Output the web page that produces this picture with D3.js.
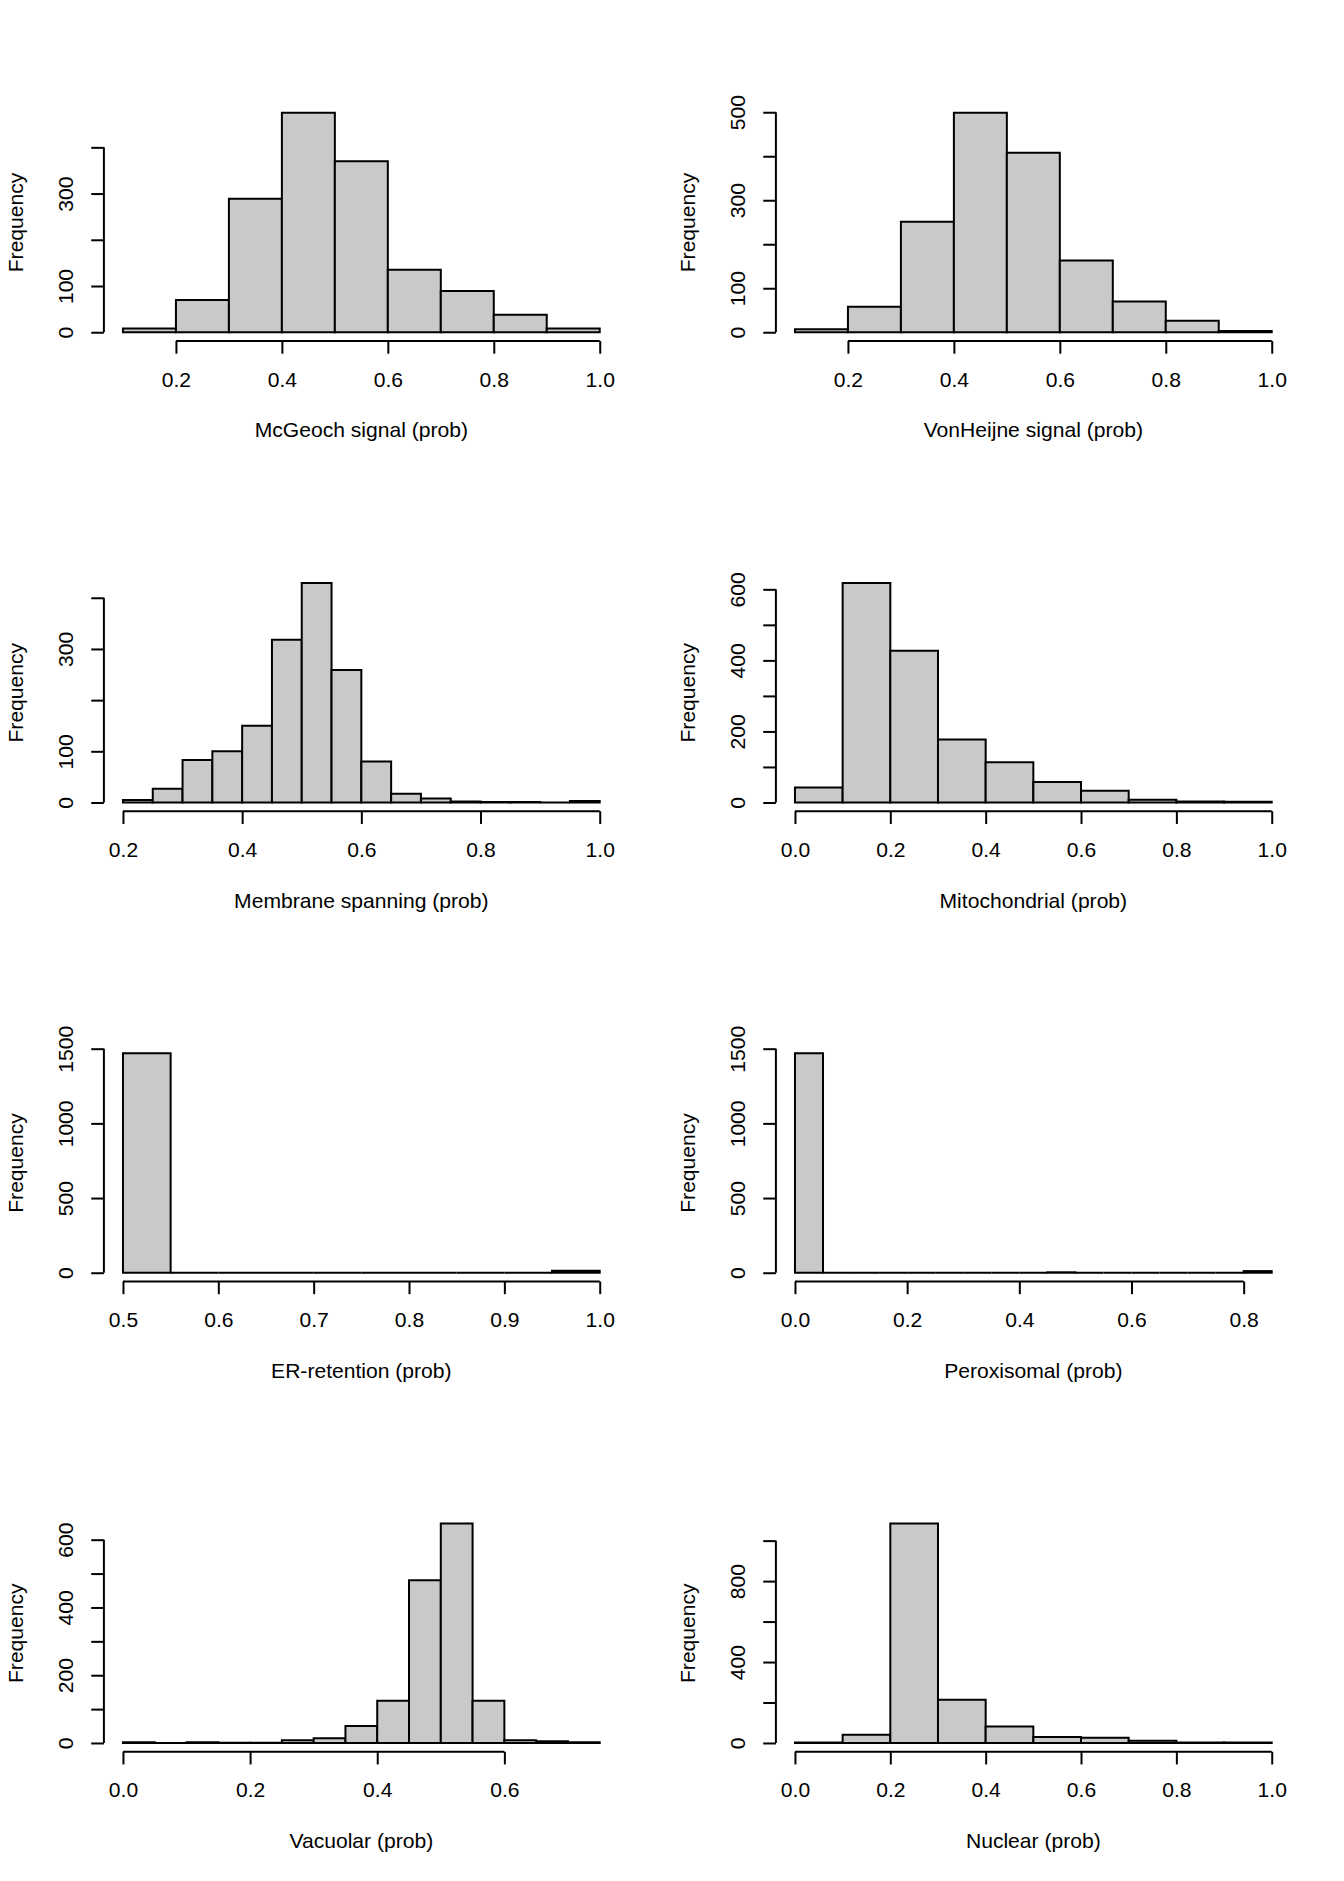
<!DOCTYPE html>
<html>
<head>
<meta charset="utf-8">
<script src="https://cdn.jsdelivr.net/npm/d3@7"></script>
<style>
  body { margin: 0; background: #fff; }
  text { font-family: "Liberation Sans", Arial, Helvetica, sans-serif; fill: #000; }
</style>
</head>
<body>
<svg id="chart" width="1344" height="1881"></svg>
<script>
// histogram bin edges and counts
const mcgBreaks = [0.1, 0.2, 0.3, 0.4, 0.5, 0.6, 0.7, 0.8, 0.9, 1.0]
const mcgCounts = [8, 70, 289, 475, 370, 135, 89, 38, 8]

const gvhBreaks = [0.1, 0.2, 0.3, 0.4, 0.5, 0.6, 0.7, 0.8, 0.9, 1.0]
const gvhCounts = [7, 58, 251, 499, 408, 163, 70, 26, 3]

const almBreaks = [0.2, 0.25, 0.3, 0.35, 0.4, 0.45, 0.5, 0.55, 0.6, 0.65, 0.7, 0.75, 0.8, 0.85, 0.9, 0.95, 1.0]
const almCounts = [5, 27, 83, 100, 150, 318, 429, 259, 80, 17, 8, 2, 1, 1, 0, 3]

const mitBreaks = [0.0, 0.1, 0.2, 0.3, 0.4, 0.5, 0.6, 0.7, 0.8, 0.9, 1.0]
const mitCounts = [42, 618, 427, 177, 113, 58, 33, 8, 3, 2]

const erlBreaks = [0.5, 0.55, 0.6, 0.65, 0.7, 0.75, 0.8, 0.85, 0.9, 0.95, 1.0]
const erlCounts = [1470, 0, 0, 0, 0, 0, 0, 0, 0, 14]

const poxBreaks = [0.0, 0.05, 0.1, 0.15, 0.2, 0.25, 0.3, 0.35, 0.4, 0.45, 0.5, 0.55, 0.6, 0.65, 0.7, 0.75, 0.8, 0.85]
const poxCounts = [1470, 0, 0, 0, 0, 0, 0, 0, 0, 3, 0, 0, 0, 0, 0, 0, 11]

const vacBreaks = [0.0, 0.05, 0.1, 0.15, 0.2, 0.25, 0.3, 0.35, 0.4, 0.45, 0.5, 0.55, 0.6, 0.65, 0.7, 0.75]
const vacCounts = [2, 0, 2, 1, 1, 8, 14, 50, 125, 480, 648, 125, 8, 5, 2]

const nucBreaks = [0.0, 0.1, 0.2, 0.3, 0.4, 0.5, 0.6, 0.7, 0.8, 0.9, 1.0]
const nucCounts = [3, 41, 1085, 214, 82, 30, 26, 11, 3, 3]

// axis ticks (and which y ticks get a label)
const xTicks = {
  mcg: [0.2, 0.4, 0.6, 0.8, 1.0],
  gvh: [0.2, 0.4, 0.6, 0.8, 1.0],
  alm: [0.2, 0.4, 0.6, 0.8, 1.0],
  mit: [0.0, 0.2, 0.4, 0.6, 0.8, 1.0],
  erl: [0.5, 0.6, 0.7, 0.8, 0.9, 1.0],
  pox: [0.0, 0.2, 0.4, 0.6, 0.8],
  vac: [0.0, 0.2, 0.4, 0.6],
  nuc: [0.0, 0.2, 0.4, 0.6, 0.8, 1.0]
}
const yTicks = {
  mcg: [0, 100, 200, 300, 400],
  gvh: [0, 100, 200, 300, 400, 500],
  alm: [0, 100, 200, 300, 400],
  mit: [0, 100, 200, 300, 400, 500, 600],
  erl: [0, 500, 1000, 1500],
  pox: [0, 500, 1000, 1500],
  vac: [0, 100, 200, 300, 400, 500, 600],
  nuc: [0, 200, 400, 600, 800, 1000]
}
const yLabels = {
  mcg: [0, 100, 300],
  gvh: [0, 100, 300, 500],
  alm: [0, 100, 300],
  mit: [0, 200, 400, 600],
  erl: [0, 500, 1000, 1500],
  pox: [0, 500, 1000, 1500],
  vac: [0, 200, 400, 600],
  nuc: [0, 400, 800]
}
const titles = {
  mcg: 'McGeoch signal (prob)',
  gvh: 'VonHeijne signal (prob)',
  alm: 'Membrane spanning (prob)',
  mit: 'Mitochondrial (prob)',
  erl: 'ER-retention (prob)',
  pox: 'Peroxisomal (prob)',
  vac: 'Vacuolar (prob)',
  nuc: 'Nuclear (prob)'
}

const panels = [
  { key: 'mcg', breaks: mcgBreaks, counts: mcgCounts },
  { key: 'gvh', breaks: gvhBreaks, counts: gvhCounts },
  { key: 'alm', breaks: almBreaks, counts: almCounts },
  { key: 'mit', breaks: mitBreaks, counts: mitCounts },
  { key: 'erl', breaks: erlBreaks, counts: erlCounts },
  { key: 'pox', breaks: poxBreaks, counts: poxCounts },
  { key: 'vac', breaks: vacBreaks, counts: vacCounts },
  { key: 'nuc', breaks: nucBreaks, counts: nucCounts }
]

// R-like layout: mfrow = c(4, 2), margins in text lines
const LINE = 25.34
const PANEL_W = 672
const PANEL_H = 1881 / 4
const mar = { bottom: 5.1, left: 4.1, top: 4.1, right: 2.1 }
const FONT = 21.1
const LW = 2

const svg = d3.select('#chart')

panels.forEach((p, i) => {
  const ox = (i % 2) * PANEL_W
  const oy = Math.floor(i / 2) * PANEL_H
  const left = ox + mar.left * LINE
  const right = ox + PANEL_W - mar.right * LINE
  const top = oy + mar.top * LINE
  const bottom = oy + PANEL_H - mar.bottom * LINE

  const lo = p.breaks[0]
  const hi = p.breaks[p.breaks.length - 1]
  const pad = (hi - lo) * 0.04
  const maxCount = d3.max(p.counts)

  const xScale = d3.scaleLinear().domain([lo - pad, hi + pad]).range([left, right])
  const yScale = d3.scaleLinear().domain([-0.04 * maxCount, 1.04 * maxCount]).range([bottom, top])

  const g = svg.append('g')

  // bars (as paths so empty bins still show as a line)
  g.selectAll('path.bar')
    .data(p.counts)
    .enter()
    .append('path')
      .attr('class', 'bar')
      .attr('d', (d, j) => {
        const x0 = xScale(p.breaks[j])
        const x1 = xScale(p.breaks[j + 1])
        const y0 = yScale(0)
        const y1 = yScale(d)
        return `M${x0},${y0}V${y1}H${x1}V${y0}Z`
      })
      .attr('fill', '#c9c9c9')
      .attr('stroke', '#000')
      .attr('stroke-width', LW)

  // x axis
  const xt = xTicks[p.key]
  const xAxis = d3.axisBottom(xScale)
    .tickValues(xt)
    .tickSize(0.5 * LINE)
    .tickSizeOuter(0)
    .tickFormat(d3.format('.1f'))

  const gx = g.append('g')
    .attr('transform', 'translate(0,' + bottom + ')')
    .call(xAxis)
  gx.select('.domain').remove()
  gx.append('line')
    .attr('x1', xScale(xt[0]))
    .attr('x2', xScale(xt[xt.length - 1]))
    .attr('stroke', '#000')
    .attr('stroke-width', LW)
  gx.selectAll('.tick line').attr('stroke-width', LW)
  gx.selectAll('.tick text')
    .attr('y', 1.8 * LINE)
    .attr('dy', null)
    .attr('font-size', FONT)
    .attr('font-family', null)

  // y axis
  const yt = yTicks[p.key]
  const shown = yLabels[p.key]
  const yAxis = d3.axisLeft(yScale)
    .tickValues(yt)
    .tickSize(0.5 * LINE)
    .tickSizeOuter(0)
    .tickFormat(d => shown.includes(d) ? String(d) : '')

  const gy = g.append('g')
    .attr('transform', 'translate(' + left + ',0)')
    .call(yAxis)
  gy.select('.domain').remove()
  gy.append('line')
    .attr('y1', yScale(yt[0]))
    .attr('y2', yScale(yt[yt.length - 1]))
    .attr('stroke', '#000')
    .attr('stroke-width', LW)
  gy.selectAll('.tick line').attr('stroke-width', LW)
  gy.selectAll('.tick text')
    .attr('x', null)
    .attr('dy', null)
    .attr('text-anchor', 'middle')
    .attr('transform', 'translate(' + (-1.2 * LINE) + ',0) rotate(-90)')
    .attr('font-size', FONT)
    .attr('font-family', null)

  // axis titles
  g.append('text')
    .attr('x', (left + right) / 2)
    .attr('y', bottom + 3.8 * LINE)
    .attr('text-anchor', 'middle')
    .attr('font-size', FONT)
    .text(titles[p.key])

  g.append('text')
    .attr('transform', 'translate(' + (left - 3.2 * LINE) + ',' + ((top + bottom) / 2) + ') rotate(-90)')
    .attr('text-anchor', 'middle')
    .attr('font-size', FONT)
    .text('Frequency')
})
</script>
</body>
</html>
